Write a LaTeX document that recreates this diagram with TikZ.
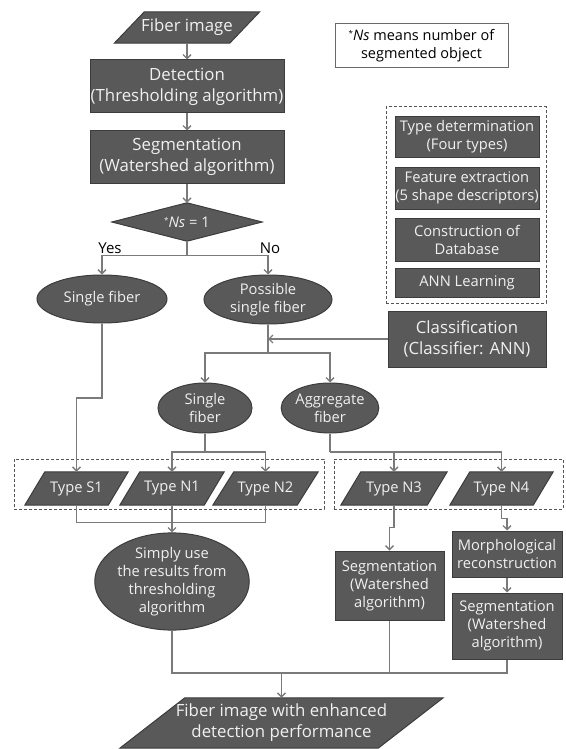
\documentclass[tikz,border=0pt]{standalone}
\usepackage{fontspec}
\setmainfont{Open Sans}
\usetikzlibrary{arrows.meta,shapes.geometric,calc}
\pgfdeclarelayer{background}
\pgfsetlayers{background,main}
\definecolor{boxfill}{HTML}{595959}
\definecolor{boxline}{HTML}{3C3C3C}
\definecolor{boxtext}{HTML}{F0F0F0}
\definecolor{linecol}{HTML}{7A7A7A}
\definecolor{dashcol}{HTML}{555555}
\definecolor{notecol}{HTML}{6A6A6A}
\newcommand\smallast{{\fontsize{8}{8}\selectfont\raisebox{4pt}{*}}}
\begin{document}
\begin{tikzpicture}[x=1pt,y=-1pt,
  bigf/.style={font=\fontsize{16.8}{21}\selectfont},
  midf/.style={font=\fontsize{14.7}{18}\selectfont},
  box/.style={rectangle, fill=boxfill, draw=boxline, line width=1pt, text=boxtext, align=center, inner sep=0pt},
  ell/.style={ellipse, fill=boxfill, draw=boxline, line width=1pt, text=boxtext, align=center, inner sep=0pt},
  ptext/.style={rectangle, text=boxtext, align=center, inner sep=0pt},
  polyshape/.style={fill=boxfill, draw=boxline, line width=1pt},
  dashbox/.style={rectangle, draw=dashcol, line width=1pt, dash pattern=on 3pt off 2pt, inner sep=0pt},
  lbl/.style={text=black, font=\fontsize{15}{18}\selectfont},
  conn/.style={draw=linecol, line width=1.3pt, -{Straight Barb[length=4pt,width=8pt]}},
  plain/.style={draw=linecol, line width=1.3pt}
]
\useasboundingbox (0,0) rectangle (565,749);

% dashed group boxes
\node[dashbox, minimum width=160pt, minimum height=196pt] (rgrp) at (466,205) {};
\node[dashbox, minimum width=310pt, minimum height=50pt] (lgrp) at (169,484) {};
\node[dashbox, minimum width=229pt, minimum height=50pt] (tgrp) at (448.5,484) {};

% main column
\node[ptext, bigf, minimum width=145pt, minimum height=31pt] (fi) at (187,27.5) {Fiber image};
\node[box, bigf, minimum width=194pt, minimum height=53pt] (det) at (187,86.5) {Detection\\(Thresholding algorithm)};
\node[box, bigf, minimum width=194pt, minimum height=52pt] (seg) at (187,157) {Segmentation\\(Watershed algorithm)};
\node[ptext, midf, minimum width=150pt, minimum height=38pt] (dia) at (187,222) {\smallast\textit{Ns} = 1};
\node[lbl] (yes) at (110,248) {Yes};
\node[lbl] (no) at (270,248) {No};

% note
\node[rectangle, draw=notecol, fill=white, line width=1pt, minimum width=173pt, minimum height=44pt, align=center, text=black, font=\fontsize{14.5}{18}\selectfont] (note) at (421.5,46) {\smallast\textit{Ns} means number of\\segmented object};

% right group
\node[box, midf, minimum width=144pt, minimum height=40pt] (td) at (467,137) {Type determination\\(Four types)};
\node[box, midf, minimum width=144pt, minimum height=42pt] (fe) at (467,188) {Feature extraction\\(5 shape descriptors)};
\node[box, midf, minimum width=144pt, minimum height=43pt] (cdb) at (467,239.5) {Construction of\\Database};
\node[box, midf, minimum width=144pt, minimum height=29pt] (ann) at (467,282.5) {ANN Learning};
\node[box, bigf, minimum width=158pt, minimum height=56pt] (cls) at (467,339) {Classification\\(Classifier: ANN)};

% ellipses
\node[ell, midf, minimum width=130pt, minimum height=48pt] (sf1) at (102,299) {Single fiber};
\node[ell, midf, minimum width=128pt, minimum height=49pt] (psf) at (268,299.5) {Possible\\single fiber};
\node[ell, midf, minimum width=94pt, minimum height=50pt] (sf2) at (205,408) {Single\\fiber};
\node[ell, midf, minimum width=94pt, minimum height=50pt] (agg) at (330,408) {Aggregate\\fiber};

% types
\node[ptext, midf, minimum width=103pt, minimum height=33pt] (s1) at (76.5,488.5) {Type S1};
\node[ptext, midf, minimum width=104pt, minimum height=33pt] (n1) at (172,488.5) {Type N1};
\node[ptext, midf, minimum width=105pt, minimum height=33pt] (n2) at (265.5,488.5) {Type N2};
\node[ptext, midf, minimum width=106pt, minimum height=33pt] (n3) at (394,488.5) {Type N3};
\node[ptext, midf, minimum width=103pt, minimum height=33pt] (n4) at (501.5,488.5) {Type N4};

% lower
\node[ell, midf, minimum width=151pt, minimum height=83pt] (simply) at (172,581.5) {Simply use\\the results from\\thresholding\\algorithm};
\node[box, midf, minimum width=109pt, minimum height=69pt] (seg3) at (389.5,585.5) {Segmentation\\(Watershed\\algorithm)};
\node[box, midf, minimum width=110pt, minimum height=46pt] (morph) at (507,554) {Morphological\\reconstruction};
\node[box, midf, minimum width=110pt, minimum height=66pt] (seg4) at (507,626) {Segmentation\\(Watershed\\algorithm)};
\node[ptext, bigf, minimum width=323pt, minimum height=50pt] (final) at (281.5,723) {Fiber image with enhanced\\detection performance};

% parallelogram and diamond outlines
\begin{pgfonlayer}{background}
\foreach \n/\s in {fi/30, s1/20, n1/20, n2/21, n3/20, n4/20, final/65}
  \draw[polyshape] ([xshift=\s pt]\n.north west) -- (\n.north east) -- ([xshift=-\s pt]\n.south east) -- (\n.south west) -- cycle;
\draw[polyshape] (dia.north) -- (dia.east) -- (dia.south) -- (dia.west) -- cycle;
\end{pgfonlayer}

% connectors
\draw[conn] (fi.south) -- (det.north);
\draw[conn] (det.south) -- (seg.north);
\draw[conn] (seg.south) -- (dia.north);
\draw[plain] (dia.south) -- ++(0,14) coordinate (j1);
\draw[conn] (j1) -| (sf1.north);
\draw[conn] (j1) -| (psf.north);

\draw[plain] (psf.south) -- (psf.south |- 0,353) coordinate (j2);
\draw[conn] (cls.west) -- (cls.west -| psf.south);
\draw[conn] (j2) -| (sf2.north);
\draw[conn] (j2) -| (agg.north);

\draw[conn] (sf1.south) -- (sf1.south |- 0,398) -| (s1.north);
\draw[plain] (sf2.south) -- (sf2.south |- 0,452) coordinate (j3);
\draw[conn] (j3) -| (n1.north);
\draw[conn] (j3) -| (n2.north);
\draw[plain] (agg.south) -- (agg.south |- 0,452) coordinate (j4);
\draw[conn] (j4) -| (n3.north);
\draw[conn] (j4) -| (n4.north);

\draw[plain] (s1.south) -- ++(0,17) -| (n2.south);
\draw[conn] (n1.south) -- (simply.north);
\draw[conn] (n3.south) -- ++(0,22) -| (seg3.north);
\draw[conn] (n4.south) -- ++(0,13) -| (morph.north);
\draw[conn] (morph.south) -- (seg4.north);

\coordinate (j6) at (final.north |- 0,673);
\draw[plain] (simply.south) |- (j6);
\draw[plain] (seg4.south) |- (j6);
\draw[plain] (seg3.south) -- (seg3.south |- j6);
\draw[conn] (j6) -- (final.north);
\end{tikzpicture}
\end{document}
